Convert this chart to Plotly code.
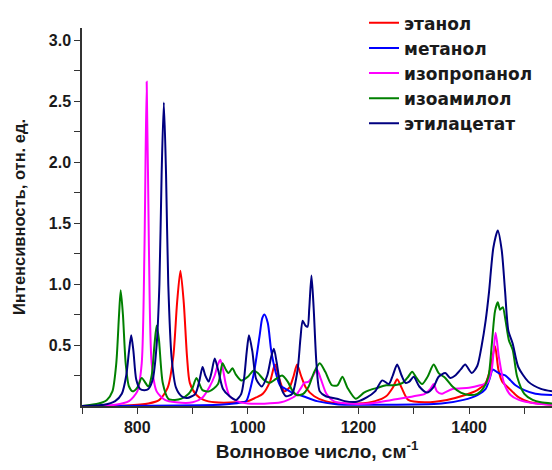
import plotly.graph_objects as go

# ---- data ----
ethanol_x = [700, 780, 820, 840, 855, 865, 872, 878, 884, 890, 895, 907, 920, 940, 980, 1000, 1015, 1027, 1040, 1049, 1057, 1066, 1075, 1083, 1089, 1096, 1105, 1120, 1140, 1170, 1200, 1230, 1250, 1262, 1270, 1278, 1290, 1320, 1360, 1393, 1415, 1430, 1438, 1447, 1453, 1460, 1471, 1480, 1490, 1510, 1550]
ethanol_y = [0.0, 0.005, 0.02, 0.05, 0.15, 0.40, 0.85, 1.11, 0.85, 0.40, 0.19, 0.09, 0.05, 0.03, 0.03, 0.04, 0.07, 0.10, 0.20, 0.34, 0.22, 0.12, 0.15, 0.25, 0.34, 0.25, 0.15, 0.08, 0.04, 0.02, 0.02, 0.04, 0.08, 0.15, 0.22, 0.15, 0.05, 0.03, 0.05, 0.09, 0.13, 0.19, 0.30, 0.49, 0.30, 0.20, 0.15, 0.11, 0.07, 0.03, 0.01]

methanol_x = [700, 950, 975, 990, 997, 1010, 1021, 1026, 1030, 1036, 1042, 1050, 1058, 1068, 1080, 1100, 1125, 1160, 1250, 1350, 1390, 1415, 1430, 1437, 1443, 1450, 1458, 1466, 1475, 1484, 1500, 1520, 1550]
methanol_y = [0.0, 0.01, 0.02, 0.03, 0.04, 0.25, 0.57, 0.72, 0.75, 0.68, 0.46, 0.28, 0.17, 0.14, 0.11, 0.08, 0.04, 0.015, 0.01, 0.02, 0.05, 0.09, 0.14, 0.22, 0.30, 0.28, 0.26, 0.25, 0.21, 0.17, 0.13, 0.10, 0.09]

isopropanol_x = [700, 760, 785, 800, 808, 813, 817, 821, 826, 835, 850, 870, 900, 918, 931, 940, 945, 950, 955, 960, 967, 980, 1000, 1060, 1085, 1095, 1102, 1110, 1118, 1125, 1132, 1142, 1155, 1180, 1220, 1260, 1300, 1320, 1330, 1336, 1342, 1350, 1370, 1400, 1420, 1433, 1441, 1448, 1454, 1463, 1475, 1490, 1520, 1550]
isopropanol_y = [0.0, 0.01, 0.04, 0.12, 0.35, 1.30, 2.66, 1.30, 0.35, 0.12, 0.05, 0.03, 0.03, 0.07, 0.16, 0.25, 0.33, 0.38, 0.30, 0.18, 0.08, 0.04, 0.02, 0.03, 0.08, 0.14, 0.19, 0.20, 0.25, 0.30, 0.22, 0.10, 0.04, 0.02, 0.02, 0.05, 0.08, 0.10, 0.14, 0.18, 0.12, 0.10, 0.14, 0.15, 0.17, 0.19, 0.30, 0.60, 0.40, 0.19, 0.09, 0.05, 0.02, 0.01]

isoamylol_x = [700, 730, 745, 755, 762, 767, 770, 774, 779, 785, 792, 800, 808, 820, 826, 831, 835, 839, 846, 856, 868, 880, 893, 900, 907, 918, 930, 946, 954, 960, 965, 972, 978, 988, 1000, 1010, 1018, 1030, 1040, 1050, 1062, 1072, 1080, 1088, 1100, 1110, 1120, 1130, 1140, 1152, 1162, 1171, 1180, 1195, 1210, 1220, 1235, 1250, 1265, 1280, 1290, 1297, 1305, 1315, 1325, 1336, 1345, 1357, 1370, 1385, 1400, 1415, 1425, 1435, 1441, 1447, 1452, 1456, 1461, 1466, 1472, 1479, 1487, 1500, 1515, 1530, 1550]
isoamylol_y = [0.0, 0.02, 0.05, 0.12, 0.35, 0.75, 0.95, 0.75, 0.35, 0.16, 0.12, 0.15, 0.23, 0.16, 0.25, 0.50, 0.66, 0.55, 0.19, 0.06, 0.05, 0.06, 0.10, 0.15, 0.23, 0.13, 0.12, 0.18, 0.35, 0.30, 0.27, 0.31, 0.26, 0.21, 0.24, 0.29, 0.27, 0.21, 0.19, 0.22, 0.25, 0.20, 0.13, 0.09, 0.10, 0.16, 0.28, 0.35, 0.28, 0.17, 0.17, 0.24, 0.15, 0.06, 0.11, 0.13, 0.15, 0.17, 0.17, 0.19, 0.24, 0.28, 0.23, 0.18, 0.24, 0.34, 0.27, 0.23, 0.16, 0.11, 0.09, 0.10, 0.14, 0.24, 0.50, 0.78, 0.85, 0.79, 0.81, 0.70, 0.54, 0.46, 0.24, 0.10, 0.05, 0.03, 0.02]

ethylacetate_x = [700, 740, 760, 772, 780, 785, 789, 793, 798, 805, 813, 820, 828, 835, 840, 844, 848, 852, 856, 862, 870, 880, 890, 905, 912, 918, 923, 929, 934, 940, 946, 955, 967, 979, 988, 993, 998, 1002, 1008, 1015, 1025, 1035, 1042, 1047, 1052, 1060, 1069, 1080, 1090, 1095, 1099, 1104, 1108, 1111, 1115, 1119, 1124, 1130, 1141, 1150, 1161, 1175, 1197, 1215, 1230, 1243, 1255, 1262, 1270, 1278, 1285, 1292, 1300, 1310, 1324, 1335, 1345, 1357, 1366, 1375, 1385, 1393, 1405, 1415, 1423, 1430, 1436, 1444, 1452, 1459, 1465, 1471, 1479, 1489, 1507, 1530, 1550]
ethylacetate_y = [0.0, 0.01, 0.04, 0.10, 0.25, 0.45, 0.58, 0.45, 0.22, 0.14, 0.13, 0.14, 0.22, 0.50, 1.00, 1.90, 2.49, 1.90, 1.00, 0.40, 0.15, 0.08, 0.065, 0.10, 0.20, 0.32, 0.25, 0.20, 0.27, 0.39, 0.30, 0.14, 0.08, 0.05, 0.10, 0.22, 0.45, 0.58, 0.45, 0.22, 0.16, 0.25, 0.40, 0.47, 0.36, 0.15, 0.08, 0.10, 0.30, 0.55, 0.70, 0.66, 0.65, 0.80, 1.07, 0.80, 0.35, 0.12, 0.08, 0.07, 0.06, 0.04, 0.035, 0.07, 0.12, 0.21, 0.18, 0.25, 0.34, 0.25, 0.19, 0.20, 0.24, 0.16, 0.11, 0.15, 0.24, 0.27, 0.23, 0.25, 0.30, 0.34, 0.27, 0.33, 0.50, 0.70, 0.93, 1.30, 1.44, 1.28, 0.95, 0.62, 0.51, 0.32, 0.20, 0.14, 0.12]

names = ["этанол", "метанол", "изопропанол", "изоамилол", "этилацетат"]
colors = ["#ff0000", "#0000ff", "#ff00ff", "#008000", "#000080"]
series = [(ethanol_x, ethanol_y), (methanol_x, methanol_y), (isopropanol_x, isopropanol_y),
          (isoamylol_x, isoamylol_y), (ethylacetate_x, ethylacetate_y)]

x_tickvals = [800, 1000, 1200, 1400]
x_minorvals = [700, 900, 1100, 1300, 1500]
y_tickvals = [0.5, 1.0, 1.5, 2.0, 2.5, 3.0]
y_ticktext = ["0.5", "1.0", "1.5", "2.0", "2.5", "3.0"]
y_minorvals = [0.25, 0.75, 1.25, 1.75, 2.25, 2.75]

fig = go.Figure()
for name, color, (xs, ys) in zip(names, colors, series):
    fig.add_trace(go.Scatter(x=xs, y=ys, mode="lines", name=name, legendgroup=name,
                             line=dict(color=color, width=2, shape="spline", smoothing=0.7)))

FONT = "Liberation Sans, Arial, sans-serif"
LFONT = "DejaVu Sans, Liberation Sans, sans-serif"
AX = "#333333"
fig.update_layout(
    width=552, height=470,
    margin=dict(l=82, r=0, t=28, b=64),
    paper_bgcolor="white", plot_bgcolor="white",
    font=dict(family=FONT, color="#1a1a1a", size=16, weight="bold"),
    showlegend=True,
    legend=dict(x=0.60, y=1.06, xanchor="left", yanchor="top", bgcolor="rgba(0,0,0,0)",
                font=dict(size=17, family=LFONT, color="#1a1a1a", weight="bold"),
                itemwidth=30, tracegroupgap=0, traceorder="normal"),
    xaxis=dict(range=[700, 1550], showgrid=False, zeroline=False, showline=True,
               linecolor=AX, linewidth=1.5, ticks="outside", ticklen=6, tickwidth=1.2,
               tickcolor=AX, tickvals=x_tickvals,
               minor=dict(tickvals=x_minorvals, ticks="outside", ticklen=6, tickwidth=1.2, tickcolor=AX),
               tickfont=dict(size=16, family=FONT, weight="bold"),
               title=dict(text="Волновое число, см<sup>-1</sup>", standoff=10,
                          font=dict(size=19, family=FONT, weight="bold"))),
    yaxis=dict(range=[0, 3.1], showgrid=False, zeroline=False, showline=True,
               linecolor=AX, linewidth=1.5, ticks="outside", ticklen=6, tickwidth=1.2,
               tickcolor=AX, tickvals=y_tickvals, ticktext=y_ticktext,
               minor=dict(tickvals=y_minorvals, ticks="outside", ticklen=6, tickwidth=1.2, tickcolor=AX),
               tickfont=dict(size=16, family=FONT, weight="bold"),
               title=dict(text="Интенсивность, отн. ед.", standoff=19,
                          font=dict(size=16.5, family=FONT, weight="bold"))),
)

fig.write_html("out.html")
